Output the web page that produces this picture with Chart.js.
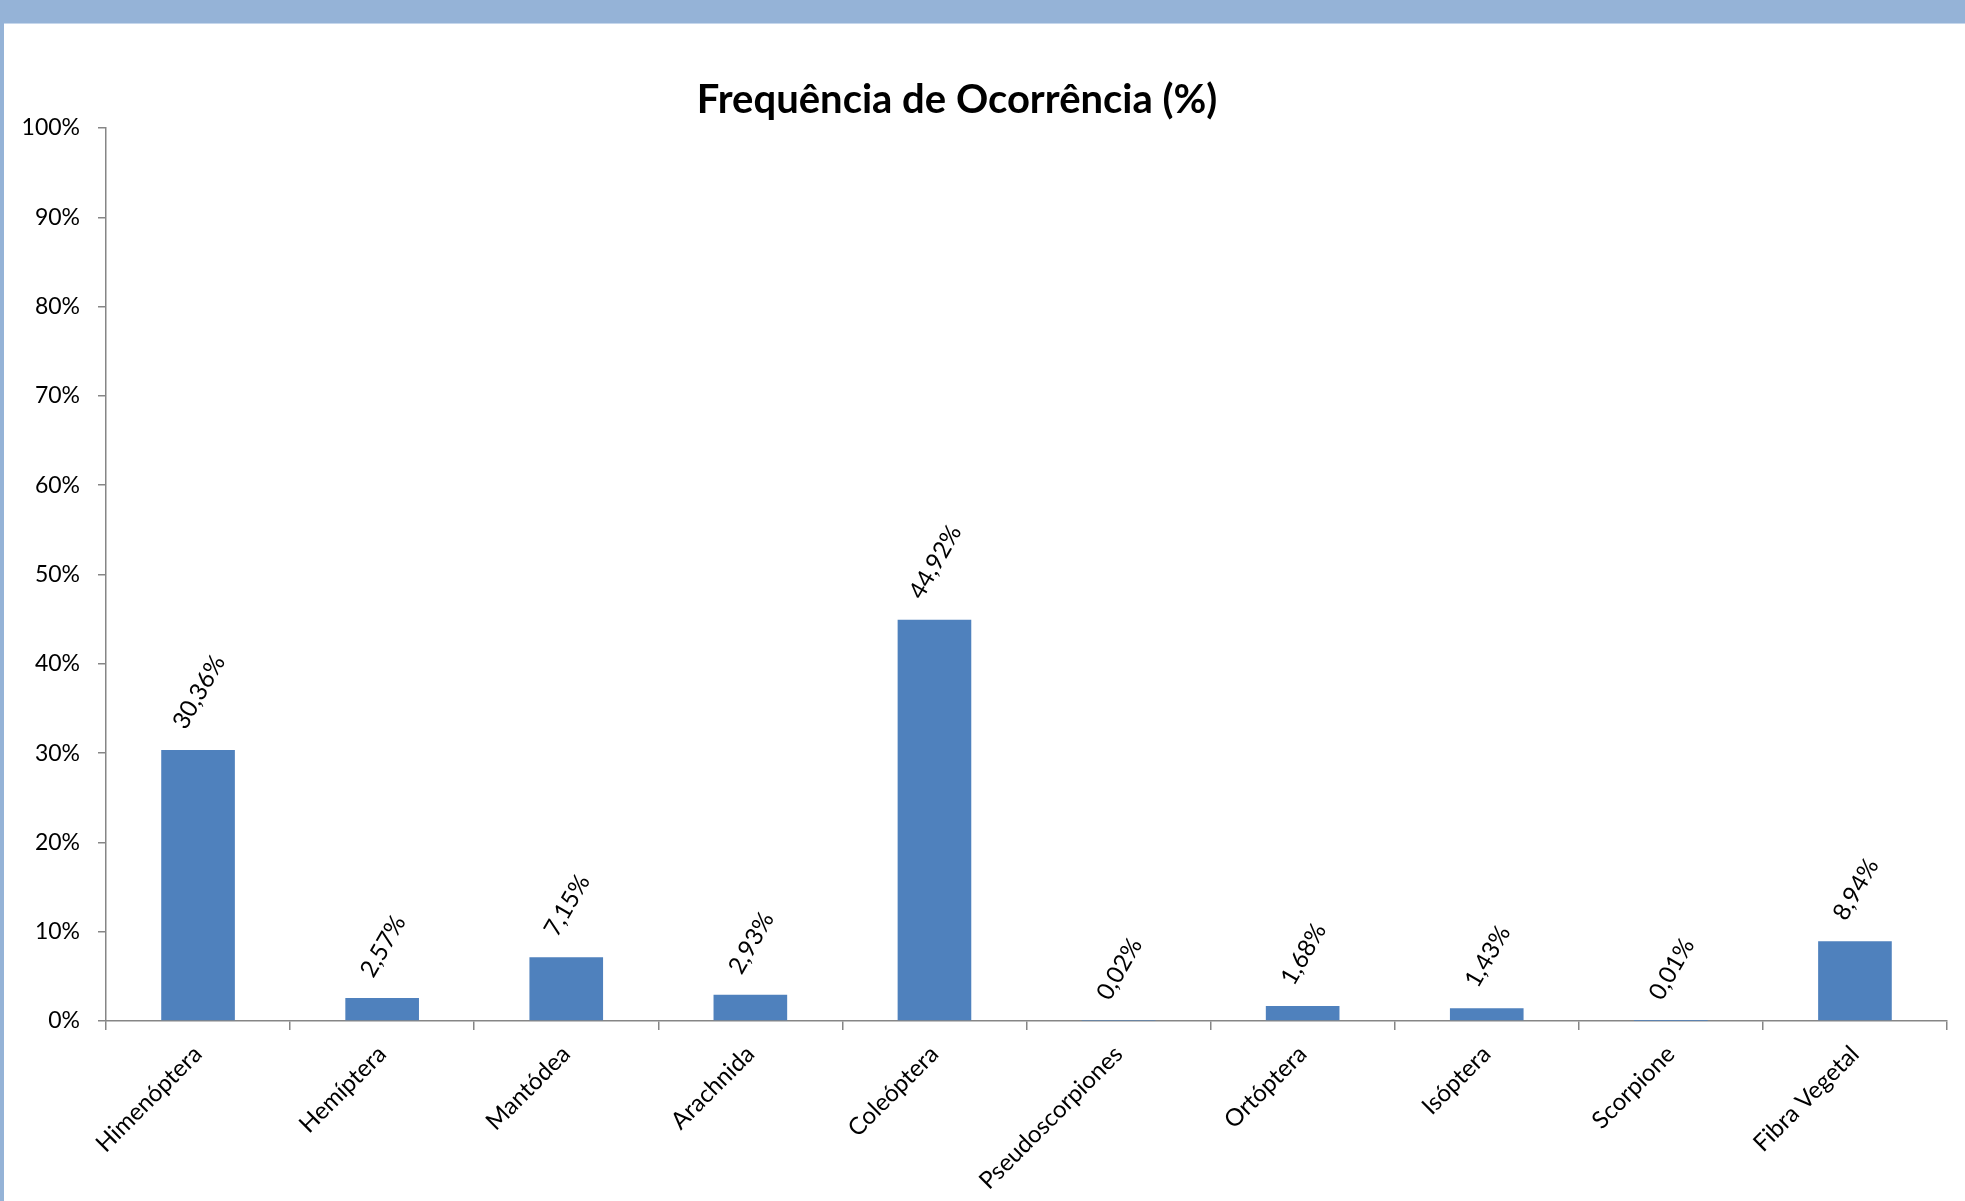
<!DOCTYPE html>
<html>
<head>
<meta charset="utf-8">
<script src="https://cdn.jsdelivr.net/npm/chart.js@4"></script>
<style>
  html, body { margin: 0; padding: 0; background: #fff; overflow: hidden; }
  body { width: 1965px; height: 1201px; position: relative; }
  #topBar { position: absolute; left: 0; top: 0; width: 1965px; height: 23px; background: #95B3D7; border-bottom: 1px solid #C6D7EC; z-index: 2; }
  #leftBar { position: absolute; left: 0; top: 0; width: 4px; height: 1201px; background: #95B3D7; z-index: 2; }
  #chartBox { position: absolute; left: -33px; top: 23px; width: 1998px; height: 1178px; }
</style>
</head>
<body>
<div id="topBar"></div>
<div id="leftBar"></div>
<div id="chartBox"><canvas id="freqChart" width="1998" height="1178"></canvas></div>
<script>
const categories = ["Himenóptera", "Hemíptera", "Mantódea", "Arachnida", "Coleóptera",
  "Pseudoscorpiones", "Ortóptera", "Isóptera", "Scorpione", "Fibra Vegetal"];
const frequencies = [30.36, 2.57, 7.15, 2.93, 44.92, 0.02, 1.68, 1.43, 0.01, 8.94];
const chartTitle = "Frequência de Ocorrência (%)";

const FONT = "Lato, 'Open Sans', sans-serif";
const AXIS_GREY = "#868686";
const LABEL_SIZE = 24;

// value labels above each bar, rotated like the original
const barLabels = {
  id: "barLabels",
  afterDatasetsDraw(chart) {
    const ctx = chart.ctx;
    const meta = chart.getDatasetMeta(0);
    ctx.save();
    ctx.font = LABEL_SIZE + "px " + FONT;
    ctx.fillStyle = "#000";
    ctx.textAlign = "center";
    ctx.textBaseline = "middle";
    meta.data.forEach((bar, i) => {
      const txt = frequencies[i].toFixed(2).replace(".", ",") + "%";
      const w = ctx.measureText(txt).width;
      const ang = Math.PI / 3;
      const half = (w * Math.sin(ang) + LABEL_SIZE * Math.cos(ang)) / 2;
      ctx.save();
      ctx.translate(bar.x + 1, bar.y - 17 - half);
      ctx.rotate(-ang);
      ctx.fillText(txt, 0, 0);
      ctx.restore();
    });
    ctx.restore();
  }
};

const ctx = document.getElementById("freqChart").getContext("2d");
new Chart(ctx, {
  type: "bar",
  data: {
    labels: categories,
    datasets: [{
      data: frequencies,
      backgroundColor: "#4F81BD",
      borderWidth: 0,
      barPercentage: 0.4,
      categoryPercentage: 1.0
    }]
  },
  options: {
    responsive: false,
    animation: false,
    layout: { padding: { left: 0, right: 18, top: 0, bottom: 0 } },
    plugins: {
      legend: { display: false },
      tooltip: { enabled: false },
      title: {
        display: true,
        text: chartTitle,
        color: "#000",
        font: { family: FONT, size: 40, weight: "bold", lineHeight: 1.2 },
        padding: { top: 53, bottom: 4 }
      }
    },
    scales: {
      x: {
        grid: { drawOnChartArea: false, drawTicks: true, tickLength: 9, color: AXIS_GREY, lineWidth: 1.5, offset: true },
        border: { color: AXIS_GREY, width: 1.5 },
        ticks: {
          color: "#000",
          font: { family: FONT, size: LABEL_SIZE },
          maxRotation: 45,
          minRotation: 45,
          padding: 10,
          autoSkip: false
        },
        afterFit(scale) { scale.height = 180; }
      },
      y: {
        min: 0,
        max: 100,
        grid: { drawOnChartArea: false, drawTicks: true, tickLength: 8, color: AXIS_GREY, lineWidth: 1.5 },
        border: { color: AXIS_GREY, width: 1.5 },
        ticks: {
          stepSize: 10,
          color: "#000",
          font: { family: FONT, size: 23 },
          padding: 18,
          callback: v => v + "%"
        },
        afterFit(scale) { scale.width = 139; }
      }
    }
  },
  plugins: [barLabels]
});
</script>
</body>
</html>
